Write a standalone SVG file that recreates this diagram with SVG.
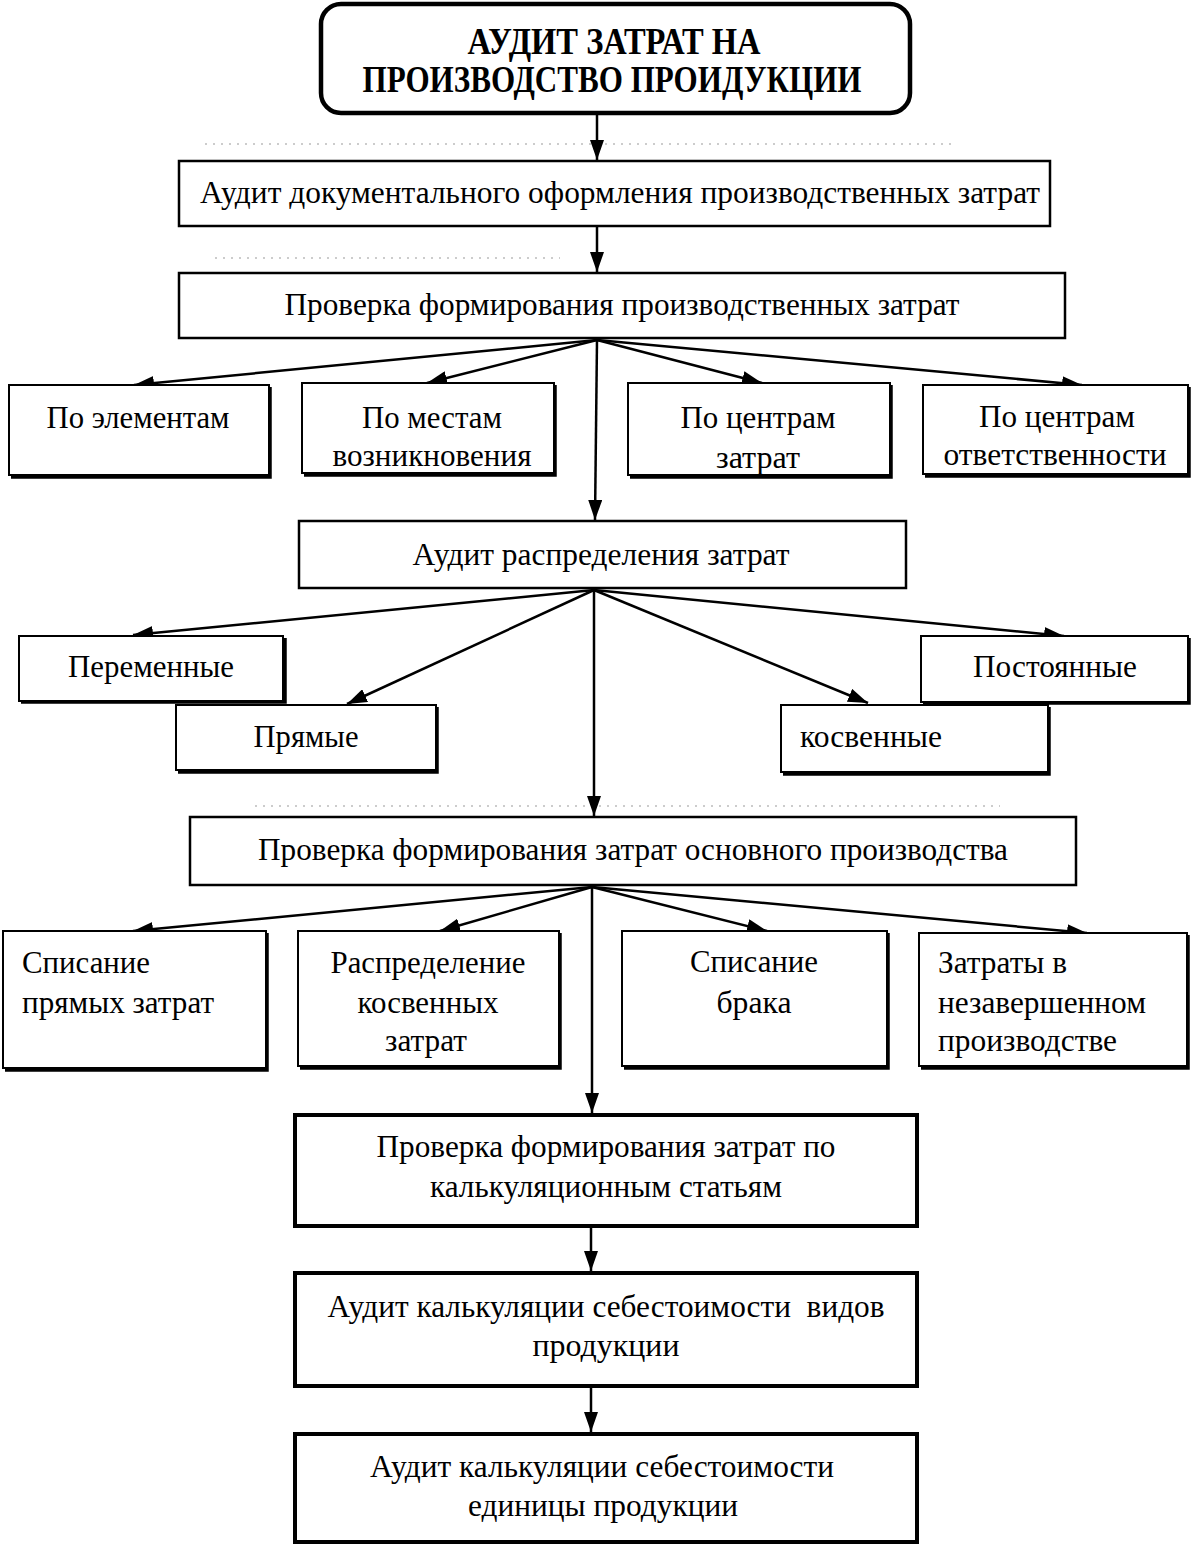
<svg xmlns="http://www.w3.org/2000/svg" width="1193" height="1549" viewBox="0 0 1193 1549">
<style>
.bg{fill:#fff}
.box{fill:#fff;stroke:#000;stroke-width:2.5}
.boxs{fill:#fff;stroke:#000;stroke-width:2}
.boxb{fill:#fff;stroke:#000;stroke-width:4}
.sh{fill:none;stroke:#000;stroke-width:3.5}
.t{font-family:"Liberation Serif","Times New Roman",serif;font-size:32px;fill:#000}
.tb{font-family:"Liberation Serif","Times New Roman",serif;font-size:37px;font-weight:bold;fill:#000}
.c{stroke:#000;stroke-width:2.5;fill:none}
.dots{stroke:#999;stroke-width:1;stroke-dasharray:2 6;fill:none}
</style>
<defs>
<marker id="ah" markerUnits="userSpaceOnUse" markerWidth="20" markerHeight="14" refX="20" refY="7" orient="auto">
<path d="M0,0 L20,7 L0,14 Z" fill="#000"/>
</marker>
</defs>
<rect class="bg" x="0" y="0" width="1193" height="1549"/>

<g id="artifacts">
<path class="dots" d="M205,144 H955"/>
<path class="dots" d="M215,258 H560"/>
<path class="dots" d="M255,806 H1000"/>
</g>

<g id="connectors">
<path class="c" d="M597,114 V160" marker-end="url(#ah)"/>
<path class="c" d="M597,227 V272" marker-end="url(#ah)"/>
<path class="c" d="M597,340 L134,385" marker-end="url(#ah)"/>
<path class="c" d="M597,340 L427,383" marker-end="url(#ah)"/>
<path class="c" d="M597,340 L762,383" marker-end="url(#ah)"/>
<path class="c" d="M597,340 L1082,385" marker-end="url(#ah)"/>
<path class="c" d="M597,340 L595,520" marker-end="url(#ah)"/>
<path class="c" d="M594,590 L133,635" marker-end="url(#ah)"/>
<path class="c" d="M594,590 L347,704" marker-end="url(#ah)"/>
<path class="c" d="M594,590 L868,703" marker-end="url(#ah)"/>
<path class="c" d="M594,590 L1064,636" marker-end="url(#ah)"/>
<path class="c" d="M594,590 L594,816" marker-end="url(#ah)"/>
<path class="c" d="M592,887 L133,931" marker-end="url(#ah)"/>
<path class="c" d="M592,887 L440,931" marker-end="url(#ah)"/>
<path class="c" d="M592,887 L767,931" marker-end="url(#ah)"/>
<path class="c" d="M592,887 L1087,933" marker-end="url(#ah)"/>
<path class="c" d="M592,887 L592,1113" marker-end="url(#ah)"/>
<path class="c" d="M591,1228 V1271" marker-end="url(#ah)"/>
<path class="c" d="M591,1388 V1432" marker-end="url(#ah)"/>
</g>

<g id="title">
<rect x="321" y="4" width="589" height="109" rx="20" ry="20" fill="#fff" stroke="#000" stroke-width="4.5"/>
<text class="tb" x="614" y="54" text-anchor="middle" textLength="293" lengthAdjust="spacingAndGlyphs">АУДИТ ЗАТРАТ НА</text>
<text class="tb" x="612" y="92" text-anchor="middle" textLength="499" lengthAdjust="spacingAndGlyphs">ПРОИЗВОДСТВО ПРОИДУКЦИИ</text>
</g>

<g id="n-doc">
<rect class="box" x="179" y="161" width="871" height="65"/>
<text class="t" x="620" y="203" text-anchor="middle" textLength="840" lengthAdjust="spacingAndGlyphs">Аудит документального оформления производственных затрат</text>
</g>

<g id="n-form">
<rect class="box" x="179" y="273" width="886" height="65"/>
<text class="t" x="622" y="315" text-anchor="middle" textLength="675" lengthAdjust="spacingAndGlyphs">Проверка формирования производственных затрат</text>
</g>

<g id="n-elem">
<rect class="boxs" x="9" y="385" width="260" height="90"/>
<path class="sh" d="M270,387 V477 H11"/>
<text class="t" x="138" y="428" text-anchor="middle" textLength="183" lengthAdjust="spacingAndGlyphs">По элементам</text>
</g>

<g id="n-mesta">
<rect class="boxs" x="302" y="383" width="252" height="90"/>
<path class="sh" d="M555,385 V475 H304"/>
<text class="t" x="432" y="428" text-anchor="middle" textLength="140" lengthAdjust="spacingAndGlyphs">По местам</text>
<text class="t" x="432" y="466" text-anchor="middle" textLength="199" lengthAdjust="spacingAndGlyphs">возникновения</text>
</g>

<g id="n-centr">
<rect class="boxs" x="628" y="383" width="262" height="92"/>
<text class="t" x="758" y="428" text-anchor="middle" textLength="155" lengthAdjust="spacingAndGlyphs">По центрам</text>
<text class="t" x="758" y="468" text-anchor="middle" textLength="84" lengthAdjust="spacingAndGlyphs">затрат</text>
<path class="sh" d="M891,385 V477 H630"/>
</g>

<g id="n-otv">
<rect class="boxs" x="923" y="385" width="265" height="89"/>
<path class="sh" d="M1189,387 V476 H925"/>
<text class="t" x="1057" y="427" text-anchor="middle" textLength="156" lengthAdjust="spacingAndGlyphs">По центрам</text>
<text class="t" x="1055" y="465" text-anchor="middle" textLength="223" lengthAdjust="spacingAndGlyphs">ответственности</text>
</g>

<g id="n-raspr">
<rect class="box" x="299" y="521" width="607" height="67"/>
<text class="t" x="601" y="565" text-anchor="middle" textLength="377" lengthAdjust="spacingAndGlyphs">Аудит распределения затрат</text>
</g>

<g id="n-perem">
<rect class="boxs" x="19" y="636" width="264" height="65"/>
<path class="sh" d="M285,638 V702 H21"/>
<text class="t" x="151" y="677" text-anchor="middle" textLength="166" lengthAdjust="spacingAndGlyphs">Переменные</text>
</g>

<g id="n-pryam">
<rect class="boxs" x="176" y="705" width="260" height="65"/>
<path class="sh" d="M437,707 V772 H178"/>
<text class="t" x="306" y="747" text-anchor="middle" textLength="105" lengthAdjust="spacingAndGlyphs">Прямые</text>
</g>

<g id="n-post">
<rect class="boxs" x="921" y="636" width="267" height="66"/>
<path class="sh" d="M1189,638 V703 H923"/>
<text class="t" x="1055" y="677" text-anchor="middle" textLength="164" lengthAdjust="spacingAndGlyphs">Постоянные</text>
</g>

<g id="n-kosv">
<rect class="boxs" x="781" y="705" width="267" height="67"/>
<path class="sh" d="M1049,707 V774 H783"/>
<text class="t" x="800" y="747" textLength="142" lengthAdjust="spacingAndGlyphs">косвенные</text>
</g>

<g id="n-osn">
<rect class="box" x="190" y="817" width="886" height="68"/>
<text class="t" x="633" y="860" text-anchor="middle" textLength="750" lengthAdjust="spacingAndGlyphs">Проверка формирования затрат основного производства</text>
</g>

<g id="n-spis">
<rect class="boxs" x="3" y="931" width="263" height="137"/>
<path class="sh" d="M267,933 V1070 H5"/>
<text class="t" x="22" y="973" textLength="128" lengthAdjust="spacingAndGlyphs">Списание</text>
<text class="t" x="22" y="1013" textLength="192" lengthAdjust="spacingAndGlyphs">прямых затрат</text>
</g>

<g id="n-rasprk">
<rect class="boxs" x="298" y="931" width="261" height="135"/>
<path class="sh" d="M560,933 V1068 H300"/>
<text class="t" x="428" y="973" text-anchor="middle" textLength="195" lengthAdjust="spacingAndGlyphs">Распределение</text>
<text class="t" x="428" y="1013" text-anchor="middle" textLength="141" lengthAdjust="spacingAndGlyphs">косвенных</text>
<text class="t" x="426" y="1051" text-anchor="middle" textLength="82" lengthAdjust="spacingAndGlyphs">затрат</text>
</g>

<g id="n-brak">
<rect class="boxs" x="622" y="931" width="265" height="135"/>
<path class="sh" d="M888,933 V1068 H624"/>
<text class="t" x="754" y="972" text-anchor="middle" textLength="128" lengthAdjust="spacingAndGlyphs">Списание</text>
<text class="t" x="754" y="1013" text-anchor="middle" textLength="75" lengthAdjust="spacingAndGlyphs">брака</text>
</g>

<g id="n-nzp">
<rect class="boxs" x="919" y="933" width="268" height="133"/>
<path class="sh" d="M1188,935 V1068 H921"/>
<text class="t" x="938" y="973" textLength="129" lengthAdjust="spacingAndGlyphs">Затраты в</text>
<text class="t" x="938" y="1013" textLength="208" lengthAdjust="spacingAndGlyphs">незавершенном</text>
<text class="t" x="938" y="1051" textLength="179" lengthAdjust="spacingAndGlyphs">производстве</text>
</g>

<g id="n-kalk">
<rect class="boxb" x="295" y="1115" width="622" height="111"/>
<text class="t" x="606" y="1157" text-anchor="middle" textLength="459" lengthAdjust="spacingAndGlyphs">Проверка формирования затрат по</text>
<text class="t" x="606" y="1197" text-anchor="middle" textLength="352" lengthAdjust="spacingAndGlyphs">калькуляционным статьям</text>
</g>

<g id="n-vidov">
<rect class="boxb" x="295" y="1273" width="622" height="113"/>
<text class="t" x="606" y="1317" text-anchor="middle" textLength="557" lengthAdjust="spacingAndGlyphs" style="white-space:pre">Аудит калькуляции себестоимости  видов</text>
<text class="t" x="606" y="1356" text-anchor="middle" textLength="147" lengthAdjust="spacingAndGlyphs">продукции</text>
</g>

<g id="n-edin">
<rect class="boxb" x="295" y="1434" width="622" height="108"/>
<text class="t" x="602" y="1477" text-anchor="middle" textLength="464" lengthAdjust="spacingAndGlyphs">Аудит калькуляции себестоимости</text>
<text class="t" x="603" y="1516" text-anchor="middle" textLength="270" lengthAdjust="spacingAndGlyphs">единицы продукции</text>
</g>
</svg>
